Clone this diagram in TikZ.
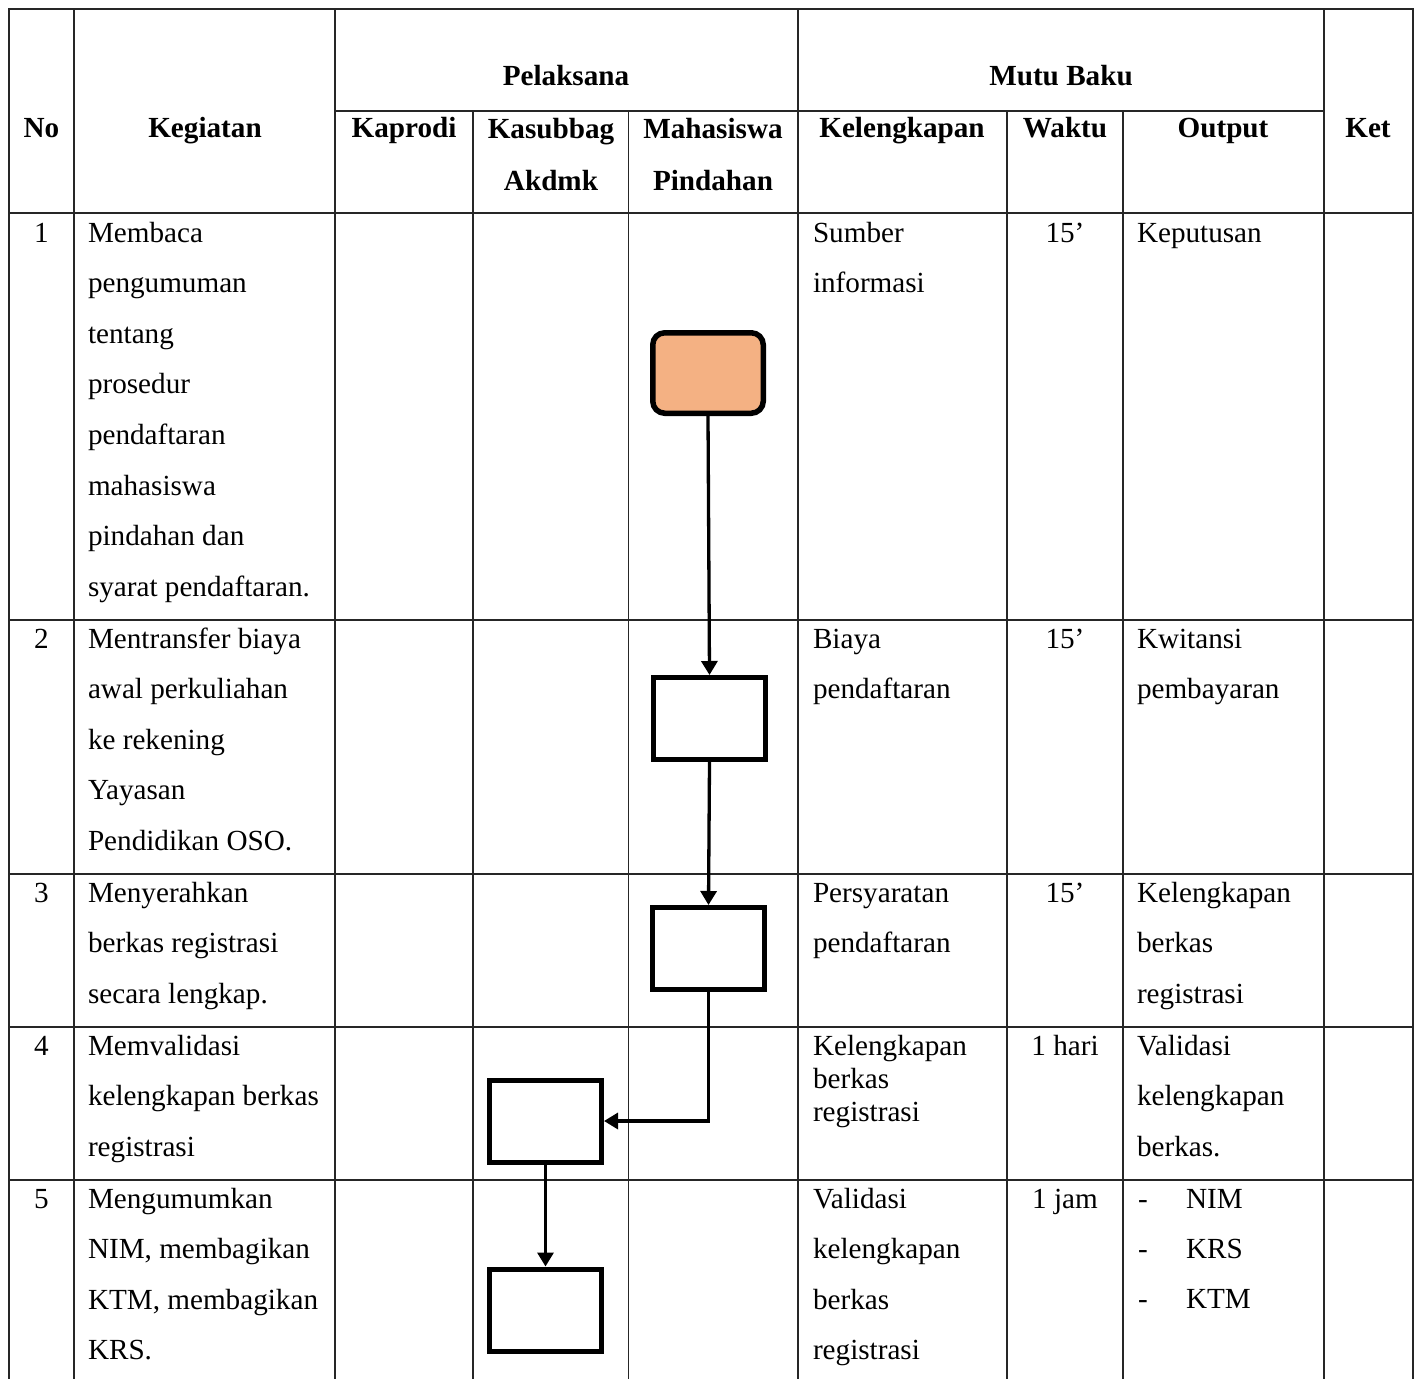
\documentclass[tikz,border=0pt]{standalone}
\usepackage{fontspec}
\setmainfont{Liberation Serif}
\usetikzlibrary{arrows.meta}
\definecolor{startfill}{HTML}{F4B183}
\newcommand{\cellLines}[5]{\foreach \t [count=\i] in {#5}{\node[txt,anchor=base west] (#1-\i) at ({#2},{#3+(\i-1)*#4}) {\t};}}
\begin{document}
\begin{tikzpicture}[x=1pt,y=-1pt,
  grid/.style={line width=1.5pt, draw=black!85, line cap=rect},
  txt/.style={inner sep=0pt, outer sep=0pt, font=\fontsize{29.17}{35}\selectfont},
  hdr/.style={inner sep=0pt, outer sep=0pt, anchor=base, font=\fontsize{29.17}{35}\selectfont\bfseries},
  num/.style={txt, anchor=base},
  proc/.style={draw, line width=5pt, fill=white, minimum width=112pt, minimum height=82pt, inner sep=0pt},
  term/.style={draw, line width=5.5pt, fill=startfill, rounded corners=12pt, minimum width=110.5pt, minimum height=80.5pt, inner sep=0pt},
  flow/.style={line width=3.3pt, -{Triangle[width=16pt,length=14pt]}},
]
\useasboundingbox (0,0) rectangle (1418,1378);
\fill[white] (0,0) rectangle (1418,1378);

% grid
\draw[grid] (9,9) -- (1413,9);
\draw[grid] (335,111) -- (1324,111);
\draw[grid] (9,213) -- (1413,213);
\draw[grid] (9,620) -- (1413,620);
\draw[grid] (9,874) -- (1413,874);
\draw[grid] (9,1027) -- (1413,1027);
\draw[grid] (9,1180) -- (1413,1180);
\foreach \x in {9,74,335,798,1324,1413} \draw[grid] (\x,9) -- (\x,1378);
\foreach \x in {473,628.5,1007,1123} \draw[grid] (\x,111) -- (\x,1378);

% header
\node[hdr] (hNo) at (41.5,138) {No};
\node[hdr] (hKeg) at (205,138) {Kegiatan};
\node[hdr] (hPel) at (566,86) {Pelaksana};
\node[hdr] (hMutu) at (1061,86) {Mutu Baku};
\node[hdr] (hKap) at (404,138) {Kaprodi};
\node[hdr] (hKas) at (551,139) {Kasubbag};
\node[hdr] (hAkd) at (551,190) {Akdmk};
\node[hdr] (hMhs) at (713,139) {Mahasiswa};
\node[hdr] (hPin) at (713,190) {Pindahan};
\node[hdr] (hKel) at (902,138) {Kelengkapan};
\node[hdr] (hWak) at (1065,138) {Waktu};
\node[hdr] (hOut) at (1223,138) {Output};
\node[hdr] (hKet) at (1368,138) {Ket};

% row 1
\node[num] (n1) at (41.5,242) {1};
\cellLines{k1}{88}{242}{50.6}{Membaca,pengumuman,tentang,prosedur,pendaftaran,mahasiswa,pindahan dan,syarat pendaftaran.}
\cellLines{l1}{813}{242}{50.6}{Sumber,informasi}
\node[num] (w1) at (1065,242) {15’};
\cellLines{o1}{1137}{242}{50.6}{Keputusan}

% row 2
\node[num] (n2) at (41.5,648) {2};
\cellLines{k2}{88}{648}{50.6}{Mentransfer biaya,awal perkuliahan,ke rekening,Yayasan,Pendidikan OSO.}
\cellLines{l2}{813}{648}{50.6}{Biaya,pendaftaran}
\node[num] (w2) at (1065,648) {15’};
\cellLines{o2}{1137}{648}{50.6}{Kwitansi,pembayaran}

% row 3
\node[num] (n3) at (41.5,902) {3};
\cellLines{k3}{88}{902}{50.6}{Menyerahkan,berkas registrasi,secara lengkap.}
\cellLines{l3}{813}{902}{50.6}{Persyaratan,pendaftaran}
\node[num] (w3) at (1065,902) {15’};
\cellLines{o3}{1137}{902}{50.6}{Kelengkapan,berkas,registrasi}

% row 4
\node[num] (n4) at (41.5,1055) {4};
\cellLines{k4}{88}{1055}{50.6}{Memvalidasi,kelengkapan berkas,registrasi}
\cellLines{l4}{813}{1055}{33}{Kelengkapan,berkas,registrasi}
\node[num] (w4) at (1065,1055) {1 hari};
\cellLines{o4}{1137}{1055}{50.6}{Validasi,kelengkapan,berkas.}

% row 5
\node[num] (n5) at (41.5,1208) {5};
\cellLines{k5}{88}{1208}{50.6}{Mengumumkan,{NIM, membagikan},{KTM, membagikan},KRS.}
\cellLines{l5}{813}{1208}{50.6}{Validasi,kelengkapan,berkas,registrasi}
\node[num] (w5) at (1065,1208) {1 jam};
\cellLines{d5}{1138}{1208}{50}{-,-,-}
\cellLines{o5}{1186}{1208}{50}{NIM,KRS,KTM}

% flow
\node[term] (start) at (708,373) {};
\node[proc] (b2) at (709.5,718.5) {};
\node[proc] (b3) at (708.5,948.5) {};
\node[proc] (b4) at (545.5,1121) {};
\node[proc] (b5) at (545.5,1310) {};

\draw[flow] (start.south) -- (b2.north);
\draw[flow] (b2.south) -- (b3.north);
\draw[flow] (b3.south) |- (b4.east);
\draw[flow] (b4.south) -- (b5.north);
\end{tikzpicture}
\end{document}
